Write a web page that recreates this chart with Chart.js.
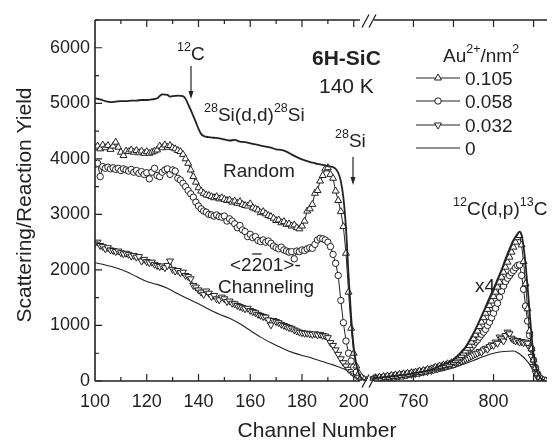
<!DOCTYPE html>
<html>
<head>
<meta charset="utf-8">
<script src="https://cdn.jsdelivr.net/npm/chart.js"></script>
<style>
  body { margin: 0; background: #fff; }
  canvas { display: block; }
</style>
</head>
<body>
<canvas id="rbsChart" width="552" height="440"></canvas>
<script>
// channel ranges for the two halves of the broken x axis
function seq(a, b) {
    const out = [];
    for (let i = a; i <= b; i++) out.push(i);
    return out;
}
const chLeft = seq(100, 205);
const chRight = seq(740, 826);

const fluences = ["0.105", "0.058", "0.032", "0"];

// 28Si(d,d)28Si part, channels 100..205
const au105Left = [
    4200, 4230, 4180, 4250, 4200, 4240, 4170, 4230, 4300, 4210,
    4120, 4060, 4140, 4130, 4160, 4120, 4150, 4110, 4140, 4100,
    4130, 4100, 4120, 4140, 4160, 4230, 4200, 4250, 4210, 4240,
    4200, 4180, 4150, 4130, 4080, 4000, 3920, 3800, 3680, 3580,
    3480, 3420, 3380, 3350, 3340, 3320, 3300, 3320, 3280, 3300,
    3270, 3250, 3260, 3220, 3240, 3200, 3230, 3180, 3160, 3150,
    3190, 3120, 3100, 3080, 3030, 3050, 3010, 2980, 2960, 2930,
    2890, 2900, 2850, 2870, 2820, 2830, 2790, 2810, 2760, 2740,
    2790, 2880, 3060, 3100, 3180, 3380, 3430, 3600, 3700, 3820,
    3840, 3720, 3650, 3420, 3250, 3050, 2780, 2300, 1600, 950,
    500, 270, 140, 70, 30, 10
];
const au058Left = [
    3900, 3920, 3680, 3860, 3830, 3850, 3820, 3840, 3810, 3830,
    3790, 3820, 3800, 3780, 3810, 3760, 3790, 3740, 3770, 3720,
    3750, 3640, 3760, 3830, 3700, 3680, 3760, 3800, 3820, 3720,
    3800, 3780, 3650, 3620, 3560, 3500, 3430, 3370, 3310, 3220,
    3150, 3100, 3060, 3040, 3000, 2990, 2970, 2990, 2960, 2950,
    2970, 2880, 2920, 2880, 2830, 2760, 2800, 2720, 2690, 2600,
    2640, 2580, 2600, 2530, 2510, 2540, 2500, 2520, 2480, 2430,
    2400, 2380, 2410, 2360, 2340, 2320, 2330, 2200, 2340, 2330,
    2360, 2350, 2380, 2400, 2390, 2460, 2540, 2570, 2560, 2540,
    2500, 2420, 2280, 2120, 1900, 1450, 1050, 720, 500, 360,
    250, 160, 90, 50, 20, 5
];
const au032Left = [
    2480, 2500, 2440, 2420, 2380, 2400, 2360, 2350, 2330, 2340,
    2310, 2290, 2300, 2280, 2250, 2260, 2230, 2240, 2160, 2190,
    2150, 2130, 2140, 2100, 2080, 2060, 2070, 2040, 2080, 2160,
    2010, 1980, 1990, 1950, 1960, 1900, 1880, 1840, 1720, 1690,
    1640, 1600, 1560, 1620, 1580, 1520, 1540, 1480, 1460, 1510,
    1480, 1430, 1440, 1400, 1390, 1360, 1340, 1320, 1300, 1310,
    1270, 1250, 1230, 1200, 1180, 1160, 1150, 1100, 1010, 1090,
    1070, 1050, 1020, 1000, 980, 960, 950, 920, 900, 880,
    870, 860, 860, 850, 840, 850, 830, 840, 820, 810,
    780, 690, 640, 560, 480, 400, 330, 270, 210, 170,
    130, 100, 70, 40, 20, 5
];
const randomLeftCh = [
    100, 102, 104, 106, 108, 110, 112, 114, 116, 118, 120, 122, 124, 125, 126,
    128, 129, 130, 132, 134, 135, 136, 137, 138, 139, 140, 141, 142, 144, 146,
    148, 150, 152, 154, 156, 158, 160, 162, 164, 166, 168, 170, 172, 174, 176,
    178, 180, 182, 184, 186, 188, 190, 192, 193, 194, 195, 196, 197, 198, 199,
    200, 201, 202, 203, 204, 205
];
const randomLeft = [
    5090, 5070, 5040, 5020, 5030, 5040, 5040, 5050, 5050, 5060, 5060, 5070, 5090, 5130, 5160,
    5150, 5120, 5130, 5140, 5130, 5080, 4980, 4880, 4770, 4660, 4540, 4450, 4410, 4390, 4380,
    4370, 4350, 4330, 4340, 4310, 4300, 4280, 4260, 4240, 4220, 4200, 4170, 4160, 4130, 4080,
    4030, 3990, 3960, 3930, 3910, 3890, 3870, 3850, 3820, 3750, 3600, 3300, 2750, 1900, 1150,
    600, 300, 130, 50, 15, 0
];
const virginLeftCh = [
    100, 104, 108, 112, 116, 120, 124, 128, 132, 136, 140, 144, 148, 152, 156,
    160, 164, 168, 172, 176, 180, 184, 188, 192, 196, 199, 201, 203, 205
];
const virginLeft = [
    2130, 2090, 2040, 1970, 1880, 1790, 1740, 1670, 1570, 1480, 1390, 1290, 1200, 1130, 1030,
    910, 790, 690, 600, 520, 460, 410, 350, 290, 220, 160, 100, 40, 5
];

// 12C(d,p)13C part (x4), channels 740..826
const au105Right = [
    40, 60, 30, 70, 50, 80, 60, 90, 70, 100,
    80, 110, 90, 120, 100, 130, 110, 140, 120, 150,
    140, 160, 150, 180, 160, 190, 180, 210, 200, 220,
    230, 250, 240, 270, 260, 290, 280, 310, 300, 330,
    340, 370, 400, 430, 460, 500, 540, 590, 640, 700,
    760, 830, 900, 980, 1060, 1140, 1220, 1290, 1360, 1440,
    1520, 1600, 1690, 1780, 1870, 1960, 2050, 2140, 2230, 2320,
    2410, 2500, 2580, 2620, 2450, 2150, 1750, 1300, 900, 580,
    380, 240, 140, 70, 35, 15, 5
];
const au058Right = [
    30, 50, 40, 60, 40, 70, 50, 80, 60, 90,
    70, 100, 80, 110, 90, 120, 100, 130, 120, 140,
    130, 150, 140, 170, 160, 180, 170, 200, 190, 210,
    200, 230, 220, 240, 250, 260, 270, 290, 280, 300,
    300, 330, 360, 390, 430, 460, 500, 540, 580, 610,
    650, 700, 740, 790, 840, 880, 930, 1000, 1060, 1140,
    1220, 1310, 1400, 1510, 1620, 1710, 1790, 1850, 1900, 1950,
    1990, 2040, 2080, 2090, 1900, 1650, 1350, 1080, 820, 580,
    380, 240, 130, 60, 25, 10, 3
];
const au032Right = [
    40, 30, 60, 40, 70, 50, 80, 60, 90, 70,
    90, 80, 100, 90, 110, 100, 120, 110, 130, 120,
    140, 130, 150, 140, 170, 160, 180, 170, 200, 190,
    210, 220, 230, 240, 260, 250, 270, 280, 290, 300,
    300, 310, 330, 340, 360, 380, 400, 410, 430, 450,
    470, 490, 500, 530, 520, 560, 590, 570, 620, 650,
    640, 700, 680, 790, 760, 720, 820, 880, 850, 770,
    740, 720, 730, 700, 710, 690, 700, 680, 600, 440,
    260, 140, 70, 30, 15, 5, 2
];
const randomRightCh = [
    740, 745, 750, 755, 760, 765, 770, 775, 780, 782, 784, 786, 788, 790, 792,
    794, 796, 798, 800, 802, 804, 806, 808, 810, 812, 813, 814, 815, 816, 817,
    818, 819, 820, 821, 822, 823, 824, 825, 826
];
const randomRight = [
    50, 70, 90, 110, 140, 170, 220, 300, 380, 450, 530, 610, 730, 860, 1010,
    1170, 1330, 1500, 1660, 1830, 2000, 2200, 2380, 2540, 2650, 2690, 2630, 2420, 2100, 1700,
    1250, 820, 480, 280, 150, 80, 35, 12, 3
];
const virginRightCh = [740, 750, 760, 770, 775, 780, 785, 790, 795, 800, 805, 810, 812, 814, 816, 818, 820, 822, 824, 826];
const virginRight = [30, 60, 100, 150, 190, 240, 300, 370, 440, 500, 530, 540, 510, 460, 390, 300, 180, 80, 30, 5];

const ink = "#222";
const fam = '"Liberation Sans", Arial, Helvetica, sans-serif';

function pts(xs, ys) {
    return xs.map((x, i) => ({ x: x, y: ys[i] }));
}

function markerSet(xs, ys, axis, style, rot, r) {
    return {
        data: pts(xs, ys),
        xAxisID: axis,
        borderColor: ink,
        borderWidth: 1,
        pointStyle: style,
        pointRotation: rot,
        pointRadius: r,
        pointBorderWidth: 1,
        pointBackgroundColor: "#fff",
        pointBorderColor: ink,
        tension: 0,
    };
}

function lineSet(xs, ys, axis, w) {
    return {
        data: pts(xs, ys),
        xAxisID: axis,
        borderColor: ink,
        borderWidth: w,
        pointRadius: 0,
        cubicInterpolationMode: "monotone",
    };
}

// draws text made of normal and superscript pieces, returns end x
function richText(ctx, parts, x, y, size, weight) {
    let cx = x;
    parts.forEach(function (p) {
        const sup = p[1];
        const s = sup ? size * 0.66 : size;
        ctx.font = (weight || "normal") + " " + s + "px " + fam;
        ctx.fillText(p[0], cx, sup ? y - size * 0.5 : y);
        cx += ctx.measureText(p[0]).width;
    });
    return cx;
}

function marker(ctx, style, rot, r, x, y) {
    ctx.beginPath();
    if (style === "circle") {
        ctx.arc(x, y, r, 0, Math.PI * 2);
    } else {
        let rad = rot * Math.PI / 180;
        ctx.moveTo(x + Math.sin(rad) * r, y - Math.cos(rad) * r);
        rad += Math.PI * 2 / 3;
        ctx.lineTo(x + Math.sin(rad) * r, y - Math.cos(rad) * r);
        rad += Math.PI * 2 / 3;
        ctx.lineTo(x + Math.sin(rad) * r, y - Math.cos(rad) * r);
        ctx.closePath();
    }
    ctx.fillStyle = "#fff";
    ctx.fill();
    ctx.lineWidth = 1;
    ctx.strokeStyle = ink;
    ctx.stroke();
}

function arrow(ctx, x, y1, y2) {
    ctx.beginPath();
    ctx.moveTo(x, y1);
    ctx.lineTo(x, y2 - 6);
    ctx.lineWidth = 1.2;
    ctx.stroke();
    ctx.beginPath();
    ctx.moveTo(x - 2.5, y2 - 8);
    ctx.lineTo(x + 2.5, y2 - 8);
    ctx.lineTo(x, y2);
    ctx.closePath();
    ctx.fill();
}

// no label overflow padding, the frame is fixed by hand
function fixPadding(s) {
    s.paddingLeft = 0;
    s.paddingRight = 0;
    s.paddingTop = 0;
    s.paddingBottom = 0;
}

const frame = {
    id: "frame",
    afterDraw: function (chart) {
        const ctx = chart.ctx;
        const a = chart.chartArea;
        const xl = chart.scales.x, xr = chart.scales.x2, y = chart.scales.y;
        const b = xl.right;
        ctx.save();
        ctx.strokeStyle = ink;
        ctx.fillStyle = ink;
        ctx.lineCap = "butt";

        // axis lines with the break
        ctx.lineWidth = 1.6;
        ctx.beginPath();
        ctx.moveTo(a.left, a.top);
        ctx.lineTo(a.left, a.bottom);
        [a.top, a.bottom].forEach(function (yy) {
            ctx.moveTo(a.left, yy);
            ctx.lineTo(b - 8, yy);
            ctx.moveTo(b + 6, yy);
            ctx.lineTo(a.right, yy);
        });
        ctx.stroke();
        ctx.lineWidth = 1.3;
        ctx.beginPath();
        [a.top + 1, a.bottom].forEach(function (yy) {
            ctx.moveTo(b - 6, yy + 6.5);
            ctx.lineTo(b + 1, yy - 6.5);
            ctx.moveTo(b + 1, yy + 6.5);
            ctx.lineTo(b + 8, yy - 6.5);
        });
        ctx.stroke();

        // inward ticks
        ctx.lineWidth = 1.2;
        ctx.beginPath();
        for (let v = 0; v <= 6500; v += 500) {
            const py = y.getPixelForValue(v);
            const len = v % 1000 === 0 ? 7 : 4;
            ctx.moveTo(a.left, py);
            ctx.lineTo(a.left + len, py);
        }
        for (let v = 110; v <= 200; v += 10) {
            const px = xl.getPixelForValue(v);
            const len = v % 20 === 0 ? 7 : 4;
            ctx.moveTo(px, a.bottom);
            ctx.lineTo(px, a.bottom - len);
            ctx.moveTo(px, a.top);
            ctx.lineTo(px, a.top + len);
        }
        for (let v = 760; v <= 820; v += 20) {
            const px = xr.getPixelForValue(v);
            ctx.moveTo(px, a.bottom);
            ctx.lineTo(px, a.bottom - 7);
            ctx.moveTo(px, a.top);
            ctx.lineTo(px, a.top + 7);
        }
        ctx.stroke();

        // axis titles
        ctx.textBaseline = "alphabetic";
        ctx.textAlign = "center";
        ctx.font = "21px " + fam;
        ctx.fillText("Channel Number", 317, 437);
        ctx.save();
        ctx.translate(31, 205);
        ctx.rotate(-Math.PI / 2);
        ctx.fillText("Scattering/Reaction Yield", 0, 0);
        ctx.restore();

        // annotations
        ctx.textAlign = "left";
        richText(ctx, [["12", true], ["C", false]], 177, 60, 19);
        arrow(ctx, 191, 66, 99);
        richText(ctx, [["28", true], ["Si(d,d)", false], ["28", true], ["Si", false]], 204, 121, 19);
        richText(ctx, [["Random", false]], 223, 177, 19);
        richText(ctx, [["28", true], ["Si", false]], 335, 147, 19);
        arrow(ctx, 353, 157, 185);
        richText(ctx, [["6H-SiC", false]], 312, 65, 21, "bold");
        richText(ctx, [["140 K", false]], 319, 93, 21);

        const x1 = richText(ctx, [["<2", false]], 230, 271, 19);
        const x2 = richText(ctx, [["2", false]], x1, 271, 19);
        richText(ctx, [["01>-", false]], x2, 271, 19);
        ctx.lineWidth = 1.3;
        ctx.beginPath();
        ctx.moveTo(x1 + 0.5, 254);
        ctx.lineTo(x2 - 0.5, 254);
        ctx.stroke();
        richText(ctx, [["Channeling", false]], 218, 293, 19);
        richText(ctx, [["12", true], ["C(d,p)", false], ["13", true], ["C", false]], 453, 215, 19);
        richText(ctx, [["x4", false]], 475, 292, 19);

        // legend
        richText(ctx, [["Au", false], ["2+", true], ["/nm", false], ["2", true]], 443, 62, 19);
        const styles = [["triangle", 0], ["circle", 0], ["triangle", 180], [null, 0]];
        const rows = [78, 101, 125, 148];
        fluences.forEach(function (f, i) {
            const ly = rows[i];
            ctx.lineWidth = 1;
            ctx.beginPath();
            ctx.moveTo(416, ly);
            ctx.lineTo(460, ly);
            ctx.stroke();
            if (styles[i][0]) {
                marker(ctx, styles[i][0], styles[i][1], styles[i][0] === "circle" ? 3.2 : 4, 438, ly);
            }
            ctx.fillStyle = ink;
            richText(ctx, [[f, false]], 465, ly + 7, 19);
        });
        ctx.restore();
    },
};

const tickFont = { family: fam, size: 18 };

const ctx = document.getElementById("rbsChart").getContext("2d");
const rbsChart = new Chart(ctx, {
    type: "line",
    data: {
        datasets: [
            lineSet(randomLeftCh, randomLeft, "x", 1.8),
            markerSet(chLeft, au105Left, "x", "triangle", 0, 4),
            markerSet(chLeft, au058Left, "x", "circle", 0, 3.2),
            markerSet(chLeft, au032Left, "x", "triangle", 180, 4),
            lineSet(virginLeftCh, virginLeft, "x", 1.1),
            lineSet(randomRightCh, randomRight, "x2", 1.8),
            markerSet(chRight, au105Right, "x2", "triangle", 0, 4),
            markerSet(chRight, au058Right, "x2", "circle", 0, 3.2),
            markerSet(chRight, au032Right, "x2", "triangle", 180, 4),
            lineSet(virginRightCh, virginRight, "x2", 1.1),
        ],
    },
    options: {
        responsive: false,
        animation: false,
        layout: { padding: { top: 20, right: 0, bottom: 0, left: 0 } },
        plugins: {
            legend: { display: false },
            tooltip: { enabled: false },
        },
        scales: {
            x: {
                type: "linear",
                position: "bottom",
                stack: "channel",
                stackWeight: 276,
                min: 100,
                max: 205.5,
                grid: { display: false, drawTicks: false },
                border: { display: false },
                ticks: {
                    stepSize: 10,
                    includeBounds: false,
                    autoSkip: false,
                    maxRotation: 0,
                    padding: 10,
                    color: ink,
                    font: tickFont,
                    callback: (v) => (v % 20 === 0 ? String(v) : ""),
                },
                afterFit: (s) => { s.height = 59; fixPadding(s); },
            },
            x2: {
                type: "linear",
                position: "bottom",
                stack: "channel",
                stackWeight: 181,
                min: 737.3,
                max: 826.7,
                grid: { display: false, drawTicks: false },
                border: { display: false },
                ticks: {
                    stepSize: 20,
                    includeBounds: false,
                    autoSkip: false,
                    maxRotation: 0,
                    padding: 10,
                    color: ink,
                    font: tickFont,
                    callback: (v) => (v === 760 || v === 800 ? String(v) : ""),
                },
                afterFit: (s) => { s.height = 59; fixPadding(s); },
            },
            y: {
                min: 0,
                max: 6500,
                grid: { display: false, drawTicks: false },
                border: { display: false },
                ticks: {
                    stepSize: 500,
                    autoSkip: false,
                    padding: 5,
                    color: ink,
                    font: tickFont,
                    callback: (v) => (v % 1000 === 0 ? String(v) : ""),
                },
                afterFit: (s) => { s.width = 95; fixPadding(s); },
            },
        },
    },
    plugins: [frame],
});
</script>
</body>
</html>
